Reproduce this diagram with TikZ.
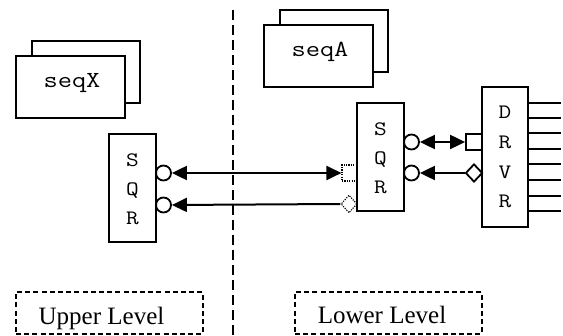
\documentclass[tikz,border=0pt]{standalone}
\usepackage{fontspec}
\setmainfont{Liberation Serif}
\newfontfamily\monof[FakeStretch=1.2]{Latin Modern Mono}
\usetikzlibrary{arrows.meta,shapes.geometric}
\begin{document}
\begin{tikzpicture}[x=1pt,y=-1pt,
  box/.style={draw, line width=1.8pt, fill=white, inner sep=0pt},
  seqtxt/.style={font=\monof\fontsize{23}{28}\selectfont, anchor=base, inner sep=0pt},
  pinlabel/.style={font=\monof\fontsize{20.5}{24}\selectfont, anchor=base, inner sep=0pt},
  lvltxt/.style={font=\fontsize{25}{30}\selectfont, anchor=base, inner sep=0pt},
  port/.style={circle, draw, line width=1.8pt, fill=white, minimum size=15pt, inner sep=0pt},
  conn/.style={line width=2pt},
  tip/.tip={Triangle[length=15pt,width=14pt]},
  dotport/.style={draw, line width=1.1pt, dash pattern=on 1.2pt off 1.2pt, inner sep=0pt},
  lvlbox/.style={draw, line width=1.5pt, dash pattern=on 5pt off 3.2pt, inner sep=0pt},
]
\useasboundingbox (0,0) rectangle (563,336);

% divider
\coordinate (vtop) at (233,10);
\coordinate (vbot) at (233,336);
\draw[line width=2pt, dash pattern=on 10pt off 5pt] (vtop) -- (vbot);

% seqX
\node[box, minimum width=108pt, minimum height=62pt] (seqXb) at (86,72) {};
\node[box, minimum width=109pt, minimum height=62pt] (seqXf) at (70.5,87) {};
\node[seqtxt] (seqXt) at (72,88) {seqX};

% seqA
\node[box, minimum width=108pt, minimum height=62pt] (seqAb) at (334,41) {};
\node[box, minimum width=109pt, minimum height=62pt] (seqAf) at (318.5,56) {};
\node[seqtxt] (seqAt) at (320,57) {seqA};

% left SQR
\node[box, minimum width=47pt, minimum height=108pt] (sqrL) at (132.5,188) {};
\node[pinlabel] (sqrLs) at (132.5,167) {S};
\node[pinlabel] (sqrLq) at (132.5,196) {Q};
\node[pinlabel] (sqrLr) at (132.5,225) {R};
\node[port] (cL1) at (163.5,173) {};
\node[port] (cL2) at (163.5,205) {};

% right SQR
\node[box, minimum width=47pt, minimum height=108pt] (sqrR) at (380.5,157) {};
\node[pinlabel] (sqrRs) at (380.5,136) {S};
\node[pinlabel] (sqrRq) at (380.5,165) {Q};
\node[pinlabel] (sqrRr) at (380.5,194) {R};
\node[port] (cR1) at (411.5,142) {};
\node[port] (cR2) at (411.5,173) {};
\node[dotport, rectangle, minimum width=15pt, minimum height=16pt] (dsq) at (349.5,173) {};
\node[dotport, diamond, minimum width=16pt, minimum height=18pt] (ddi) at (349,204) {};

% DRVR
\node[box, minimum width=46pt, minimum height=140pt] (drvr) at (505,157) {};
\node[pinlabel] (dD) at (505,119) {D};
\node[pinlabel] (dR) at (505,149) {R};
\node[pinlabel] (dV) at (505,179) {V};
\node[pinlabel] (dR2) at (505,208) {R};
\node[draw, line width=1.8pt, fill=white, minimum size=16pt, inner sep=0pt] (dsqr) at (474,142) {};
\node[draw, diamond, line width=1.8pt, fill=white, minimum width=17pt, minimum height=18pt, inner sep=0pt] (ddia) at (474,173) {};

\foreach \yy [count=\i] in {103,118,133,149,164,180,196,211} {
  \coordinate (p\i) at (561,\yy);
  \draw[conn] (drvr.east |- p\i) -- (p\i);
}

% connectors
\draw[conn, tip-tip] (cL1.east) -- (dsq.west);
\draw[conn, tip-] (cL2.east) -- (ddi.west);
\draw[conn, tip-tip] (cR1.east) -- (dsqr.west);
\draw[conn, tip-] (cR2.east) -- (ddia.west);

% level boxes
\node[lvlbox, minimum width=187pt, minimum height=42pt] (upper) at (109.5,313) {};
\node[lvltxt] (uppert) at (101.5,325) {Upper Level};
\node[lvlbox, minimum width=187pt, minimum height=42pt] (lower) at (388.5,313) {};
\node[lvltxt] (lowert) at (382,324) {Lower Level};
\end{tikzpicture}
\end{document}
